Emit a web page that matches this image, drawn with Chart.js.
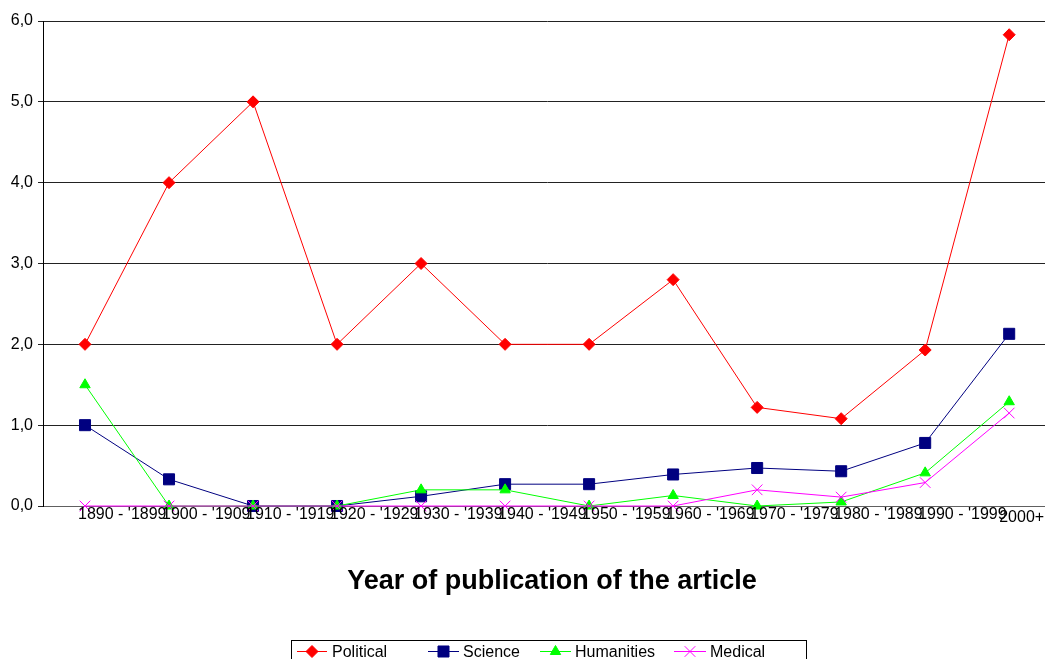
<!DOCTYPE html>
<html>
<head>
<meta charset="utf-8">
<script src="https://cdn.jsdelivr.net/npm/chart.js@4"></script>
<style>
  html, body { margin: 0; padding: 0; background: #fff; overflow: hidden; }
  canvas { display: block; }
</style>
</head>
<body>
<canvas id="articleChart" width="1060" height="659"></canvas>
<script>
// Articles per decade, by field
const periods = ['1890 - \'1899', '1900 - \'1909', '1910 - \'1919', '1920 - \'1929', '1930 - \'1939', '1940 - \'1949',
                 '1950 - \'1959', '1960 - \'1969', '1970 - \'1979', '1980 - \'1989', '1990 - \'1999', '2000+'];
const political  = [2.0, 4.0, 5.0, 2.0, 3.0, 2.0, 2.0, 2.8, 1.22, 1.08, 1.93, 5.83];
const science    = [1.0, 0.33, 0.0, 0.0, 0.12, 0.27, 0.27, 0.39, 0.47, 0.43, 0.78, 2.13];
const humanities = [1.5, 0.0, 0.0, 0.0, 0.2, 0.2, 0.0, 0.13, 0.0, 0.05, 0.41, 1.29];
const medical    = [0.0, 0.0, 0.0, 0.0, 0.0, 0.0, 0.0, 0.0, 0.2, 0.11, 0.29, 1.15];
const yTicks = [0, 1, 2, 3, 4, 5, 6];

const FONT = '"Liberation Sans", Arial, sans-serif';

const series = [
    { label: 'Political',  data: political,  color: '#FF0000', style: 'rectRot',  radius: 6,   order: 4 },
    { label: 'Science',    data: science,    color: '#000080', style: 'rect',     radius: 7.8, order: 3 },
    { label: 'Humanities', data: humanities, color: '#00FF00', style: 'triangle', radius: 6,   order: 2 },
    { label: 'Medical',    data: medical,    color: '#FF00FF', style: 'crossRot', radius: 7.5, order: 1 }
];

// Category labels, axis title and boxed legend drawn under the plot
const bottomTexts = {
    id: 'bottomTexts',
    afterDraw(chart) {
        const ctx = chart.ctx;
        const xScale = chart.scales.x;
        const bottom = chart.chartArea.bottom;
        ctx.save();
        ctx.fillStyle = '#000';
        ctx.font = '16px ' + FONT;
        ctx.textAlign = 'left';
        ctx.textBaseline = 'alphabetic';
        periods.forEach((p, i) => {
            const x = xScale.getPixelForValue(i);
            const last = i === periods.length - 1;
            ctx.fillText(p, x - (last ? 10 : 7), bottom + (last ? 16 : 13));
        });

        ctx.font = 'bold 27px ' + FONT;
        ctx.textAlign = 'center';
        ctx.fillText('Year of publication of the article', 552, 589);

        // legend box
        ctx.strokeStyle = '#000';
        ctx.lineWidth = 1;
        ctx.strokeRect(291.5, 640.5, 515, 30);
        const items = [
            { x0: 297, x1: 327, tx: 332 },
            { x0: 428, x1: 459, tx: 463 },
            { x0: 540, x1: 571, tx: 575 },
            { x0: 674, x1: 706, tx: 710 }
        ];
        ctx.font = '16px ' + FONT;
        ctx.textAlign = 'left';
        series.forEach((s, i) => {
            const it = items[i];
            const y = 651.5;
            ctx.strokeStyle = s.color;
            ctx.beginPath();
            ctx.moveTo(it.x0, y);
            ctx.lineTo(it.x1, y);
            ctx.stroke();
            ctx.fillStyle = s.color;
            Chart.helpers.drawPoint(ctx, {
                pointStyle: s.style, radius: s.radius, rotation: 0, borderWidth: 1
            }, (it.x0 + it.x1) / 2, y);
            ctx.fillStyle = '#000';
            ctx.fillText(s.label, it.tx, 657);
        });
        ctx.restore();
    }
};

new Chart(document.getElementById('articleChart'), {
    type: 'line',
    data: {
        labels: periods,
        datasets: series.map(s => ({
            label: s.label,
            data: s.data,
            borderColor: s.color,
            backgroundColor: s.color,
            pointBackgroundColor: s.color,
            pointBorderColor: s.color,
            borderWidth: 1,
            pointBorderWidth: 1,
            pointStyle: s.style,
            pointRadius: s.radius,
            pointHoverRadius: s.radius,
            tension: 0,
            fill: false,
            clip: false,
            order: s.order
        }))
    },
    options: {
        responsive: false,
        animation: false,
        layout: { padding: { top: 21, right: 3, left: 0, bottom: 0 } },
        plugins: {
            legend: { display: false },
            tooltip: { enabled: false }
        },
        scales: {
            x: {
                offset: true,
                grid: { display: false },
                border: { display: true, color: '#606060', width: 1 },
                ticks: { display: false },
                afterFit(scale) { scale.height = 153; }
            },
            y: {
                min: 0,
                max: 6,
                afterBuildTicks(scale) { scale.ticks = yTicks.map(v => ({ value: v })); },
                grid: { color: '#222', lineWidth: 1, tickLength: 5 },
                border: { display: true, color: '#000', width: 1 },
                ticks: {
                    color: '#000',
                    padding: 5,
                    font: { family: FONT, size: 16 },
                    callback: v => v.toFixed(1).replace('.', ',')
                },
                afterFit(scale) { scale.width = 43; }
            }
        }
    },
    plugins: [bottomTexts]
});
</script>
</body>
</html>
